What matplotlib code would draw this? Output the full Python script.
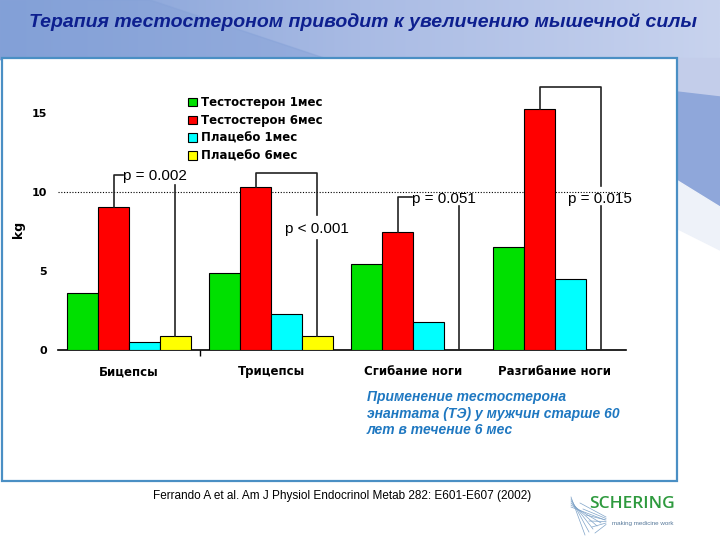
import matplotlib.pyplot as plt
import numpy as np
from matplotlib.patches import Patch, Rectangle, Polygon
from matplotlib.colors import LinearSegmentedColormap

# Data
categories = ['Бицепсы', 'Трицепсы', 'Сгибание ноги', 'Разгибание ноги']
series = ['Тестостерон 1мес', 'Тестостерон 6мес', 'Плацебо 1мес', 'Плацебо 6мес']
t_1m = [3.6, 4.9, 5.45, 6.5]
t_6m = [9.05, 10.3, 7.45, 15.25]
p_1m = [0.5, 2.3, 1.8, 4.5]
p_6m = [0.9, 0.9, None, None]
p_values = ['p = 0.002', 'p < 0.001', 'p = 0.051', 'p = 0.015']
colors = ['#00e000', '#ff0000', '#00ffff', '#ffff00']

plt.rcParams['font.family'] = ['Liberation Sans', 'DejaVu Sans']

fig = plt.figure(figsize=(7.2, 5.4), dpi=100)
W, H = 720, 540

# slide background
bg = fig.add_axes([0, 0, 1, 1], zorder=-10)
bg.set_xlim(0, W)
bg.set_ylim(H, 0)
bg.axis('off')
grad = np.linspace(0, 1, 256).reshape(1, -1)
cm = LinearSegmentedColormap.from_list('bgc', ['#7f9ed6', '#a9bbe4', '#c8d3ee'])
bg.imshow(grad, cmap=cm, extent=[0, W, 60, 0], aspect='auto', zorder=0)
bg.add_patch(Polygon([[0, 0], [150, 0], [330, 60], [0, 60]], color='#86a2d8', alpha=0.5, zorder=1))
bg.add_patch(Rectangle((660, 58), 60, 40, color='#c3cdea', zorder=1))
bg.add_patch(Polygon([[660, 90], [W, 97], [W, 207], [660, 170]], color='#8fa7da', zorder=1))
bg.add_patch(Polygon([[660, 170], [W, 207], [W, 250], [660, 220]], color='#eef2f9', zorder=1))
bg.add_patch(Rectangle((2, 58), 675, 423, facecolor='white', edgecolor='#4a8fc4', lw=1.6, zorder=2))

fig.text(363 / W, 1 - 22 / H, 'Терапия тестостероном приводит к увеличению мышечной силы',
         ha='center', va='center', fontsize=14, fontweight='bold', style='italic', color='#0d1f8f')

# chart
ax = fig.add_axes([58 / W, 1 - 350 / H, 568 / W, 17 * 15.8 / H])
x = np.arange(len(categories))
bw = 0.218
offs = np.array([-1.5, -0.5, 0.5, 1.5]) * bw
for i, vals in enumerate([t_1m, t_6m, p_1m, p_6m]):
    xs = [x[j] + offs[i] for j in range(len(vals)) if vals[j] is not None]
    ys = [v for v in vals if v is not None]
    ax.bar(xs, ys, bw, color=colors[i], edgecolor='black', lw=0.8, zorder=3)

ax.set_xlim(-0.5, 3.5)
ax.set_ylim(0, 17)
ax.axhline(10, color='black', ls=(0, (1, 1.5)), lw=0.8, zorder=1)
for s in ['top', 'right', 'left']:
    ax.spines[s].set_visible(False)
ax.spines['bottom'].set_linewidth(1.2)
ax.set_yticks([0, 5, 10, 15])
ax.set_yticklabels(['0', '5', '10', '15'], fontsize=8, fontweight='bold', family='DejaVu Sans')
ax.tick_params(axis='y', length=0, pad=8)
ax.set_xticks(x)
ax.set_xticklabels(categories, fontsize=8.5, fontweight='bold', family='DejaVu Sans')
ax.tick_params(axis='x', length=0, pad=11)
ax.set_xticks([0.5], minor=True)
ax.tick_params(axis='x', which='minor', length=4, width=1)
fig.text(18 / W, 1 - 229 / H, 'kg', rotation=90, ha='center', va='center',
         fontsize=9, fontweight='bold', family='DejaVu Sans')

lc = '#222222'
lw = 1.2
red_x = x + offs[1]
yel_x = x + offs[3]
# bracket 1
ax.plot([red_x[0], red_x[0], red_x[0] + 0.07], [t_6m[0], 11.08, 11.08], color=lc, lw=lw, zorder=4)
ax.plot([yel_x[0], yel_x[0]], [10.45, p_6m[0]], color=lc, lw=lw, zorder=4)
ax.text(red_x[0] + 0.07, 11.0, p_values[0], fontsize=11, ha='left', va='center', zorder=5)
# bracket 2
ax.plot([red_x[1], red_x[1], yel_x[1], yel_x[1]], [t_6m[1], 11.2, 11.2, 8.54],
        color=lc, lw=lw, zorder=4)
ax.plot([yel_x[1], yel_x[1]], [6.96, p_6m[1]], color=lc, lw=lw, zorder=4)
ax.text(yel_x[1], 7.66, p_values[1], fontsize=11, ha='center', va='center', zorder=5)
# bracket 3
ax.plot([red_x[2], red_x[2], red_x[2] + 0.1], [t_6m[2], 9.68, 9.68], color=lc, lw=lw, zorder=4)
ax.plot([yel_x[2], yel_x[2]], [9.1, 0], color=lc, lw=lw, zorder=4)
ax.text(red_x[2] + 0.1, 9.56, p_values[2], fontsize=11, ha='left', va='center', zorder=5)
# bracket 4
ax.plot([red_x[3], red_x[3], yel_x[3], yel_x[3]], [t_6m[3], 16.65, 16.65, 10.38],
        color=lc, lw=lw, zorder=4, clip_on=False)
ax.plot([yel_x[3], yel_x[3]], [9.11, 0], color=lc, lw=lw, zorder=4)
ax.text(yel_x[3] - 0.01, 9.56, p_values[3], fontsize=11, ha='center', va='center', zorder=5)

handles = [Patch(facecolor=c, edgecolor='black', lw=0.8) for c in colors]
fig.legend(handles, series, loc='upper left', bbox_to_anchor=(188 / W, 1 - 96 / H),
           frameon=False, handlelength=0.75, handleheight=0.75, handletextpad=0.35,
           labelspacing=0.42, borderaxespad=0, borderpad=0,
           prop={'size': 8.5, 'weight': 'bold', 'family': 'DejaVu Sans'})

fig.text(367 / W, 1 - 390 / H,
         'Применение тестостерона\nэнантата (ТЭ) у мужчин старше 60\nлет в течение 6 мес',
         ha='left', va='top', fontsize=10, fontweight='bold', style='italic',
         color='#1f78c1', linespacing=1.25)

fig.text(342 / W, 1 - 496 / H,
         'Ferrando A et al. Am J Physiol Endocrinol Metab 282: E601-E607 (2002)',
         ha='center', va='center', fontsize=8.5, color='black')

# logo
fig.text(632 / W, 1 - 504 / H, 'SCHERING', ha='center', va='center', fontsize=12.5,
         color='#2e9a3e', family='Open Sans', fontweight='semibold')
fig.text(643 / W, 1 - 523 / H, 'making medicine work', ha='center', va='center',
         fontsize=4.5, color='#557799')
for k in range(6):
    bg.plot([571, 585 + k * 4], [497 + k * 2, 535 - k * 3], color='#7fa3c8', lw=0.5, zorder=3)
    bg.plot([580 + k * 3, 606], [503 + k * 6, 517 + k * 1.5], color='#7fa3c8', lw=0.5, zorder=3)

fig.savefig('out.png', dpi=100)
